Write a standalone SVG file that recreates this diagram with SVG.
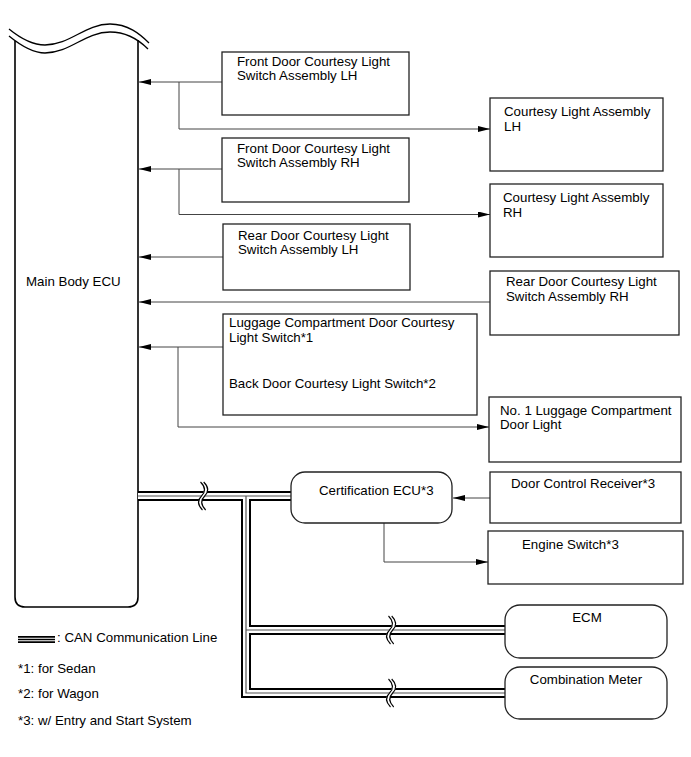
<svg xmlns="http://www.w3.org/2000/svg" width="691" height="757" viewBox="0 0 691 757">
<defs>
<style>
text{font-family:"Liberation Sans",Arial,sans-serif;font-size:13.3px;fill:#000}
.box{fill:#fff;stroke:#222;stroke-width:1.3}
.ecu{fill:none;stroke:#000;stroke-width:1.6}
.wave{fill:none;stroke:#000;stroke-width:1.3}
.con{fill:none;stroke:#444;stroke-width:1}
.canB{fill:none;stroke:#000;stroke-width:10;stroke-linejoin:miter}
.canW{fill:none;stroke:#fff;stroke-width:6;stroke-linejoin:miter}
.canC{fill:none;stroke:#555;stroke-width:1.2;stroke-linejoin:miter}
.brkW{fill:none;stroke:#fff;stroke-width:3.5}
.brk{fill:none;stroke:#000;stroke-width:1.1}
</style>
<marker id="ah" viewBox="0 0 12 6" refX="12" refY="3" markerWidth="12" markerHeight="6" orient="auto" markerUnits="userSpaceOnUse">
<path d="M0,0 L12,3 L0,6 z" fill="#000"/>
</marker>
<path id="sq" d="M-1,-14 C4,-9 4,-4 0,0 C-4,4 -4,9 1,14"/>
</defs>

<g id="main-body-ecu">
<path class="ecu" d="M15,41 V597 Q15,607 25,607 H128 Q138,607 138,597 V40"/>
<path class="wave" d="M9,29 C20,38 32,45 45,45 C70,45 85,24 110,24 C128,24 140,34 149,43"/>
<path class="wave" d="M9,36 C20,45 32,53 45,53 C70,53 85,32 110,32 C128,32 140,41 148,49"/>
<text x="26" y="286">Main Body ECU</text>
</g>

<g id="connectors">
<path class="con" d="M222,82 H139" marker-end="url(#ah)"/>
<path class="con" d="M179,82 V129 H490" marker-end="url(#ah)"/>
<path class="con" d="M222,169 H139" marker-end="url(#ah)"/>
<path class="con" d="M179,169 V214.5 H490" marker-end="url(#ah)"/>
<path class="con" d="M223,257 H139" marker-end="url(#ah)"/>
<path class="con" d="M490,302 H139" marker-end="url(#ah)"/>
<path class="con" d="M223,347 H139" marker-end="url(#ah)"/>
<path class="con" d="M178,347 V427 H489" marker-end="url(#ah)"/>
<path class="con" d="M490,498 H453" marker-end="url(#ah)"/>
<path class="con" d="M384,523 V562 H488" marker-end="url(#ah)"/>
</g>

<g id="can-lines">
<path class="canB" d="M138,496 H291"/>
<path class="canB" d="M246,496 V693 H505"/>
<path class="canB" d="M246,630 H505"/>
<path class="canW" d="M138,496 H291"/>
<path class="canW" d="M246,496 V693 H505"/>
<path class="canW" d="M246,630 H505"/>
<path class="canC" d="M138,496 H291"/>
<path class="canC" d="M246,496 V693 H505"/>
<path class="canC" d="M246,630 H505"/>
<g transform="translate(201.5,496)"><use href="#sq" class="brkW" x="1.5"/><use href="#sq" class="brk"/><use href="#sq" class="brk" x="3.2"/></g>
<g transform="translate(389.5,630)"><use href="#sq" class="brkW" x="1.5"/><use href="#sq" class="brk"/><use href="#sq" class="brk" x="3.2"/></g>
<g transform="translate(389.5,693)"><use href="#sq" class="brkW" x="1.5"/><use href="#sq" class="brk"/><use href="#sq" class="brk" x="3.2"/></g>
</g>

<g id="front-door-lh">
<rect class="box" x="222" y="52" width="187" height="63"/>
<text x="237" y="66">Front Door Courtesy Light</text>
<text x="237" y="80">Switch Assembly LH</text>
</g>
<g id="front-door-rh">
<rect class="box" x="222" y="138" width="187" height="64"/>
<text x="237" y="153">Front Door Courtesy Light</text>
<text x="237" y="167">Switch Assembly RH</text>
</g>
<g id="courtesy-light-lh">
<rect class="box" x="490" y="98" width="173" height="73"/>
<text x="504" y="116">Courtesy Light Assembly</text>
<text x="504" y="131">LH</text>
</g>
<g id="courtesy-light-rh">
<rect class="box" x="490" y="184" width="173" height="73"/>
<text x="503" y="202">Courtesy Light Assembly</text>
<text x="503" y="217">RH</text>
</g>
<g id="rear-door-lh">
<rect class="box" x="223" y="224" width="187" height="66"/>
<text x="238" y="240">Rear Door Courtesy Light</text>
<text x="238" y="254">Switch Assembly LH</text>
</g>
<g id="rear-door-rh">
<rect class="box" x="490" y="271" width="189" height="64"/>
<text x="506" y="286">Rear Door Courtesy Light</text>
<text x="506" y="301">Switch Assembly RH</text>
</g>
<g id="luggage-switch">
<rect class="box" x="223" y="314" width="254" height="101"/>
<text x="229" y="327">Luggage Compartment Door Courtesy</text>
<text x="229" y="342">Light Switch*1</text>
<text x="229" y="388">Back Door Courtesy Light Switch*2</text>
</g>
<g id="luggage-light">
<rect class="box" x="489" y="397" width="192" height="65"/>
<text x="500" y="415">No. 1 Luggage Compartment</text>
<text x="500" y="429">Door Light</text>
</g>
<g id="certification-ecu">
<rect class="box" x="291" y="472" width="161" height="51" rx="14"/>
<text x="319" y="495">Certification ECU*3</text>
</g>
<g id="door-control-receiver">
<rect class="box" x="490" y="472" width="191" height="51"/>
<text x="511" y="488">Door Control Receiver*3</text>
</g>
<g id="engine-switch">
<rect class="box" x="488" y="531" width="195" height="53"/>
<text x="522" y="549">Engine Switch*3</text>
</g>
<g id="ecm">
<rect class="box" x="505" y="605" width="162" height="53" rx="15"/>
<text x="587" y="622" text-anchor="middle">ECM</text>
</g>
<g id="combination-meter">
<rect class="box" x="505" y="667" width="162" height="52" rx="15"/>
<text x="586" y="684" text-anchor="middle">Combination Meter</text>
</g>

<g id="legend">
<path d="M18,639.5 H55" fill="none" stroke="#000" stroke-width="7"/>
<path d="M18,639.5 H55" fill="none" stroke="#fff" stroke-width="3.6"/>
<path d="M18,639.5 H55" fill="none" stroke="#000" stroke-width="1.3"/>
<text x="57" y="642">: CAN Communication Line</text>
<text x="18" y="673">*1: for Sedan</text>
<text x="18" y="698">*2: for Wagon</text>
<text x="18" y="725">*3: w/ Entry and Start System</text>
</g>
</svg>
